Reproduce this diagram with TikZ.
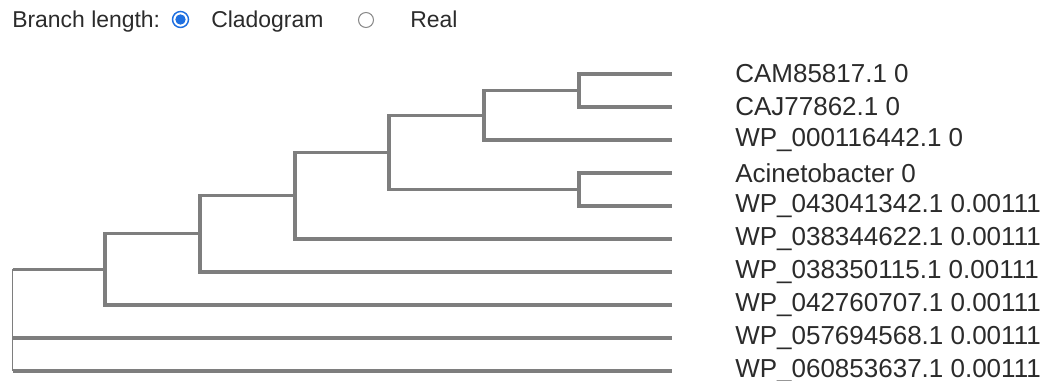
\documentclass[tikz,border=0pt]{standalone}
\usepackage{fontspec}
\setmainfont{Liberation Sans}
\begin{document}
\begin{tikzpicture}[x=0.75pt,y=-0.75pt,
  link/.style={draw=linkgray,line width=2.4pt},
  rootlink/.style={draw=linkgray,line width=1.1pt},
  leaflabel/.style={anchor=west,inner sep=0pt,text=txtgray,font=\fontsize{19.5pt}{22pt}\selectfont},
  headtext/.style={anchor=base west,inner sep=0pt,text=txtgray,font=\fontsize{17.2pt}{20pt}\selectfont}]
\definecolor{linkgray}{HTML}{7E7E7E}
\definecolor{txtgray}{HTML}{2B2B2B}
\definecolor{radioblue}{HTML}{1E6FE0}
\definecolor{radiogray}{HTML}{8A8A8A}
\useasboundingbox (0,0) rectangle (1056,381);
\fill[white] (0,0) rectangle (1056,381);
% header
\node[headtext] (hb) at (12,28) {Branch length:};
\draw[radioblue,line width=1.1pt,fill=white] (180.5,19.5) circle (8) coordinate (rb1);
\fill[radioblue] (180.5,19.5) circle (5.2);
\node[headtext] (hc) at (211,28) {Cladogram};
\draw[radiogray,line width=0.8pt,fill=white] (366,20) circle (7.5) coordinate (rb2);
\node[headtext] (hr) at (410,28) {Real};
% leaves
\foreach \i/\y in {1/74,2/107,3/140,4/173,5/206,6/239,7/272,8/305,9/338,10/371}{
  \coordinate (l\i) at (672,\y);
}
\node[leaflabel] (t1) at (735,74) {CAM85817.1 0};
\node[leaflabel] (t2) at (735,107) {CAJ77862.1 0};
\node[leaflabel] (t3) at (735,140) {WP\_000116442.1 0};
\node[leaflabel] (t4) at (735,173) {Acinetobacter 0};
\node[leaflabel] (t5) at (735,206) {WP\_043041342.1 0.00111};
\node[leaflabel] (t6) at (735,239) {WP\_038344622.1 0.00111};
\node[leaflabel] (t7) at (735,272) {WP\_038350115.1 0.00111};
\node[leaflabel] (t8) at (735,305) {WP\_042760707.1 0.00111};
\node[leaflabel] (t9) at (735,338) {WP\_057694568.1 0.00111};
\node[leaflabel] (t10) at (735,371) {WP\_060853637.1 0.00111};
% internal nodes
\coordinate (a) at (579,90.5);
\coordinate (b) at (484,115.2);
\coordinate (c) at (579,189.5);
\coordinate (d) at (389,152.3);
\coordinate (e) at (295,195.7);
\coordinate (f) at (200,233.8);
\coordinate (g) at (105,269.4);
\coordinate (r) at (12.5,320);
% links
\draw[link] (a) |- (l1);
\draw[link] (a) |- (l2);
\draw[link] (b) |- (a);
\draw[link] (b) |- (l3);
\draw[link] (c) |- (l4);
\draw[link] (c) |- (l5);
\draw[link] (d) |- (b);
\draw[link] (d) |- (c);
\draw[link] (e) |- (d);
\draw[link] (e) |- (l6);
\draw[link] (f) |- (e);
\draw[link] (f) |- (l7);
\draw[link] (g) |- (f);
\draw[link] (g) |- (l8);
\draw[rootlink] (r |- g) -- (r |- l10);
\draw[link] (r |- g) -- (g);
\draw[link] (r |- l9) -- (l9);
\draw[link] (r |- l10) -- (l10);
\end{tikzpicture}
\end{document}
